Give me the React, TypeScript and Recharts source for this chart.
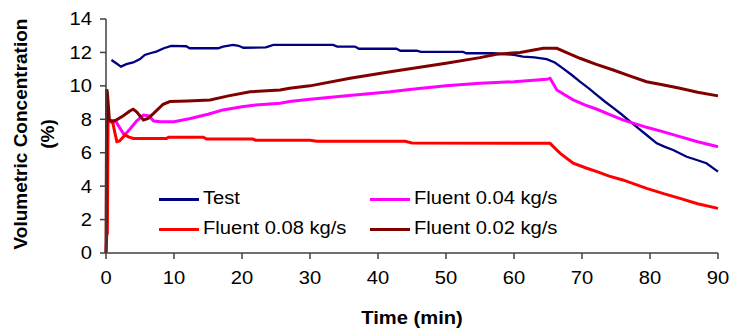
import React from "react";
import { LineChart, Line, XAxis, YAxis } from "recharts";

// ---- Data (time in min, volumetric concentration in %) ----
const testTime = [0.8, 1.5, 2.2, 3, 4, 5, 5.7, 6.5, 7.4, 8.5, 9.6, 11.8, 12.3, 16.5, 17.2, 18.7, 19.5, 20.2, 23.5, 24.6, 33.4, 34, 36.6, 37.2, 42.7, 43.3, 45.7, 46.3, 52.5, 53, 57, 60, 61.3, 63, 64.8, 66, 67.2, 68.5, 69.7, 71, 72.2, 73.4, 74.6, 75.8, 77.1, 78.3, 79.5, 81, 82.2, 83.4, 85.4, 87, 88.3, 90];
const testValues = [11.55, 11.35, 11.15, 11.3, 11.4, 11.6, 11.85, 11.95, 12.05, 12.25, 12.39, 12.37, 12.25, 12.25, 12.35, 12.45, 12.4, 12.28, 12.3, 12.45, 12.45, 12.35, 12.35, 12.22, 12.22, 12.1, 12.1, 12.03, 12.03, 11.95, 11.95, 11.85, 11.75, 11.7, 11.6, 11.4, 11.05, 10.65, 10.25, 9.85, 9.45, 9.05, 8.68, 8.3, 7.86, 7.45, 7.06, 6.56, 6.35, 6.16, 5.76, 5.55, 5.37, 4.87];

const f004Time = [0, 0.5, 1.5, 2.0, 2.7, 3.5, 4.5, 5.5, 6.3, 7, 8, 10, 12.4, 15, 17.2, 20, 22, 25.6, 27, 30, 35, 41.8, 45, 50, 55, 57.4, 60, 64.8, 65.3, 66.3, 67.5, 68.7, 70.5, 72.2, 74, 76, 79.5, 82, 84.4, 87, 90];
const f004Values = [7.9, 7.9, 7.85, 7.5, 7.05, 7.4, 7.9, 8.25, 8.2, 7.9, 7.85, 7.85, 8.05, 8.3, 8.56, 8.75, 8.85, 8.96, 9.06, 9.2, 9.4, 9.65, 9.8, 10.0, 10.15, 10.2, 10.25, 10.39, 10.45, 9.75, 9.45, 9.16, 8.85, 8.6, 8.3, 7.96, 7.52, 7.25, 6.96, 6.66, 6.36];

const f008Time = [0, 0.1, 0.2, 0.3, 1.0, 1.3, 1.6, 2.0, 2.8, 3.3, 4, 8.9, 9.2, 14.3, 14.8, 21.6, 22, 30, 31, 44, 45, 65.3, 66.8, 68.7, 70.5, 72.2, 74, 76, 79.5, 82, 84.4, 87, 90];
const f008Values = [0, 1.0, 1.2, 7.9, 7.8, 7.2, 6.66, 6.7, 7.06, 6.95, 6.85, 6.85, 6.93, 6.93, 6.82, 6.82, 6.75, 6.75, 6.68, 6.68, 6.58, 6.56, 5.96, 5.37, 5.1, 4.87, 4.6, 4.37, 3.87, 3.55, 3.27, 2.95, 2.67];

const f002Time = [0, 0.1, 0.2, 0.5, 1.0, 1.5, 2.5, 3.5, 4.0, 4.5, 5.5, 6.2, 7, 8.4, 9.4, 12, 15.3, 18, 21.2, 25.6, 27, 30, 35.9, 41.8, 50, 55, 57.4, 60.9, 64.3, 66.3, 68, 69.7, 72, 74.6, 77, 79.5, 82, 84.4, 87, 90];
const f002Values = [0, 9.8, 9.6, 7.95, 7.9, 7.95, 8.2, 8.5, 8.6, 8.45, 7.96, 8.05, 8.35, 8.9, 9.06, 9.1, 9.16, 9.4, 9.65, 9.75, 9.86, 10.0, 10.45, 10.85, 11.35, 11.69, 11.89, 12.0, 12.25, 12.25, 11.95, 11.65, 11.3, 10.95, 10.6, 10.25, 10.05, 9.86, 9.62, 9.4];

const xTicks = [0, 10, 20, 30, 40, 50, 60, 70, 80, 90];
const yTicks = [0, 2, 4, 6, 8, 10, 12, 14];

const seriesNames = ["Test", "Fluent 0.04 kg/s", "Fluent 0.08 kg/s", "Fluent 0.02 kg/s"];

const zip = (ts: number[], vs: number[]) => ts.map((t, i) => ({ t, v: vs[i] }));

const series = [
  { name: seriesNames[0], data: zip(testTime, testValues), color: "#000080", width: 2.3 },
  { name: seriesNames[1], data: zip(f004Time, f004Values), color: "#FF00FF", width: 3 },
  { name: seriesNames[2], data: zip(f008Time, f008Values), color: "#FF0000", width: 3 },
  { name: seriesNames[3], data: zip(f002Time, f002Values), color: "#800000", width: 3 },
];

const FONT = '"Liberation Sans", Arial, sans-serif';
const FS = 18;
const SX = 1.12;

const XTick = (props: any) => {
  const { x, y, payload } = props;
  return (
    <text
      x={x}
      y={y}
      dy="0.71em"
      textAnchor="middle"
      fontFamily={FONT}
      fontSize={FS}
      fill="#000"
      transform={`translate(${x} 0) scale(${SX} 1) translate(${-x} 0)`}
    >
      {payload.value}
    </text>
  );
};

const YTick = (props: any) => {
  const { x, y, payload } = props;
  return (
    <text
      x={x}
      y={y}
      dy="0.355em"
      textAnchor="end"
      fontFamily={FONT}
      fontSize={FS}
      fill="#000"
      transform={`translate(${x} 0) scale(${SX} 1) translate(${-x} 0)`}
    >
      {payload.value}
    </text>
  );
};

const legendPos = [
  { left: 159, top: 199 },
  { left: 370, top: 199 },
  { left: 159, top: 229 },
  { left: 370, top: 229 },
];

export default function App() {
  return (
    <div style={{ position: "absolute", left: 0, top: 0, width: 729, height: 329, background: "#fff", fontFamily: FONT }}>
      <LineChart width={729} height={329} margin={{ top: 19, right: 11, bottom: 36, left: 0 }}>
        <XAxis
          dataKey="t"
          type="number"
          domain={[0, 90]}
          ticks={xTicks}
          interval={0}
          allowDuplicatedCategory={false}
          height={40}
          tickSize={6}
          tickMargin={12}
          tick={<XTick />}
          axisLine={{ stroke: "#404040", strokeWidth: 1.5 }}
          tickLine={{ stroke: "#404040", strokeWidth: 1.5 }}
        />
        <YAxis
          yAxisId="left"
          type="number"
          domain={[0, 14]}
          ticks={yTicks}
          interval={0}
          width={106}
          tickSize={6}
          tickMargin={8}
          tick={<YTick />}
          axisLine={{ stroke: "#404040", strokeWidth: 1.5 }}
          tickLine={{ stroke: "#404040", strokeWidth: 1.5 }}
        />
        <YAxis
          yAxisId="right"
          orientation="right"
          type="number"
          domain={[0, 14]}
          width={0}
          tick={false}
          tickLine={false}
          axisLine={{ stroke: "#999", strokeWidth: 1.5 }}
        />
        {series.map((s) => (
          <Line
            key={s.name}
            yAxisId="left"
            data={s.data}
            dataKey="v"
            name={s.name}
            type="linear"
            stroke={s.color}
            strokeWidth={s.width}
            dot={false}
            activeDot={false}
            isAnimationActive={false}
          />
        ))}
      </LineChart>

      {series.map((s, i) => (
        <div
          key={s.name}
          style={{ position: "absolute", left: legendPos[i].left, top: legendPos[i].top, height: 0, whiteSpace: "nowrap" }}
        >
          <div style={{ position: "absolute", left: 0, top: -1.5, width: 40, height: 3, background: s.color }} />
          <span
            style={{
              position: "absolute",
              left: 44,
              top: -FS * 0.58,
              fontSize: FS,
              lineHeight: 1,
              color: "#000",
              display: "inline-block",
              transform: `scaleX(${SX})`,
              transformOrigin: "left center",
            }}
          >
            {s.name}
          </span>
        </div>
      ))}

      <div
        style={{
          position: "absolute",
          left: 412,
          top: 318,
          transform: `translate(-50%, -50%) scaleX(${SX})`,
          fontWeight: "bold",
          fontSize: FS,
          lineHeight: 1,
          whiteSpace: "nowrap",
        }}
      >
        Time (min)
      </div>

      <div
        style={{
          position: "absolute",
          left: 34,
          top: 134,
          transform: "translate(-50%, -50%) rotate(-90deg)",
          fontWeight: "bold",
          fontSize: 19,
          lineHeight: "27px",
          whiteSpace: "nowrap",
          textAlign: "center",
        }}
      >
        Volumetric Concentration
        <br />
        (%)
      </div>
    </div>
  );
}
